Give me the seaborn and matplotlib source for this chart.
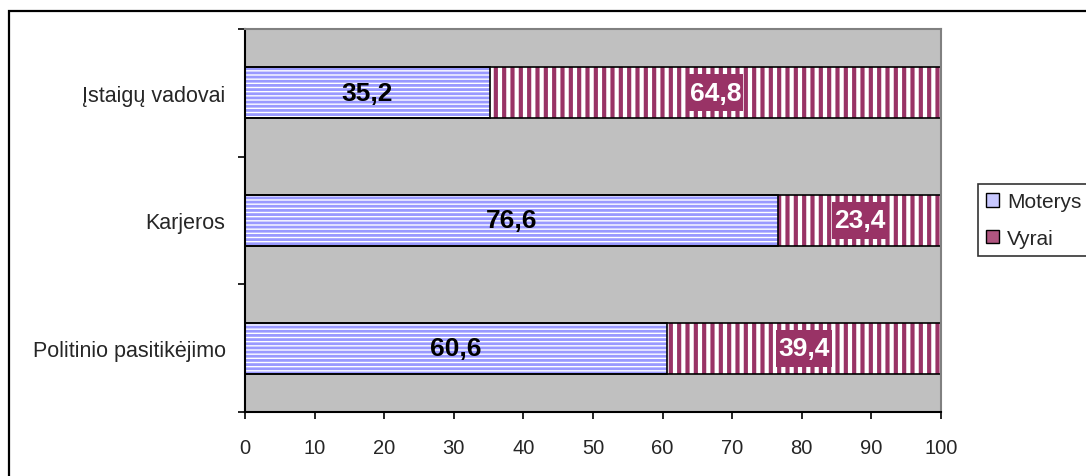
import matplotlib
matplotlib.use("Agg")
import matplotlib.pyplot as plt
from matplotlib.patches import Rectangle, Patch
import seaborn as sns
import pandas as pd

# Share of women and men by type of civil-service position, %
categories = ["Įstaigų vadovai", "Karjeros", "Politinio pasitikėjimo"]
moterys = [35.2, 76.6, 60.6]
vyrai = [64.8, 23.4, 39.4]
series_names = ["Moterys", "Vyrai"]
xticks = [0, 10, 20, 30, 40, 50, 60, 70, 80, 90, 100]

BLUE = "#9999FF"
MAROON = "#993366"
PLOT_BG = "#C0C0C0"

sns.set_style("white")
plt.rcParams["font.family"] = ["Liberation Sans", "DejaVu Sans"]

df = pd.DataFrame({
    "kategorija": categories,
    "Moterys": moterys,
    "Vyrai": vyrai,
})
df["Viso"] = df["Moterys"] + df["Vyrai"]

W, H = 1086, 477
fig = plt.figure(figsize=(W / 100, H / 100), dpi=100)
ax = fig.add_axes([245 / W, 1 - 413 / H, (941 - 245) / W, (413 - 30) / H])
ax.set_facecolor(PLOT_BG)

# stacked bars: full length (Vyrai segment shows past Moterys), then Moterys on top
sns.barplot(data=df, y="kategorija", x="Viso", orient="h", width=0.4,
            color=MAROON, ax=ax)
sns.barplot(data=df, y="kategorija", x="Moterys", orient="h", width=0.4,
            color=BLUE, ax=ax)

n = len(categories)
for i, p in enumerate(ax.patches):
    p.set_facecolor("white")
    p.set_linewidth(0)
    if i < n:
        p.set_edgecolor(MAROON)
        p.set_hatch("||")
        if hasattr(p, "set_hatch_linewidth"):
            p.set_hatch_linewidth(3.0)
    else:
        p.set_edgecolor(BLUE)
        p.set_hatch("----")
        if hasattr(p, "set_hatch_linewidth"):
            p.set_hatch_linewidth(2.0)

# black outlines around each segment
sns.barplot(data=df, y="kategorija", x="Viso", orient="h", width=0.4,
            fill=False, color="black", linewidth=1.2, ax=ax)
sns.barplot(data=df, y="kategorija", x="Moterys", orient="h", width=0.4,
            fill=False, color="black", linewidth=1.2, ax=ax)

# value labels
white_labels = []
for yi, (m, v) in enumerate(zip(moterys, vyrai)):
    ax.text(m / 2, yi, f"{m:.1f}".replace(".", ","), ha="center", va="center",
            fontsize=19, fontweight="bold", color="black", zorder=5)
    t = ax.text(m + v / 2, yi, f"{v:.1f}".replace(".", ","), ha="center",
                va="center", fontsize=19, fontweight="bold", color="white",
                zorder=5)
    white_labels.append(t)

ax.set_xlim(0, 100)
ax.set_ylim(n - 0.5, -0.5)
ax.set_xticks(xticks)
ax.set_xticklabels([str(t) for t in xticks])
ax.set_yticks([k - 0.5 for k in range(n + 1)])
ax.set_yticklabels([])
ax.set_yticks(list(range(n)), minor=True)
ax.set_yticklabels(categories, minor=True)
ax.tick_params(axis="y", which="major", direction="out", length=5, width=1.2,
               color="black", left=True)
ax.tick_params(axis="y", which="minor", length=0, pad=14, labelsize=15.5)
ax.tick_params(axis="x", direction="out", length=5, width=1.2, color="black",
               bottom=True, pad=14, labelsize=14.5)
ax.set_xlabel("")
ax.set_ylabel("")
ax.grid(False)

for side in ["left", "bottom"]:
    ax.spines[side].set_color("black")
    ax.spines[side].set_linewidth(1.5)
for side in ["top", "right"]:
    ax.spines[side].set_color("#808080")
    ax.spines[side].set_linewidth(1.5)
    ax.spines[side].set_visible(True)

# maroon boxes behind the white labels: snug sideways, taller than the text
fig.canvas.draw()
renderer = fig.canvas.get_renderer()
inv = fig.transFigure.inverted()
for t in white_labels:
    bb = t.get_window_extent(renderer)
    cx = (bb.x0 + bb.x1) / 2
    cy = (bb.y0 + bb.y1) / 2
    fx0, fy0 = inv.transform((bb.x0 - 2, cy - 18.5))
    fx1, fy1 = inv.transform((bb.x1 + 2, cy + 18.5))
    fig.add_artist(Rectangle((fx0, fy0), fx1 - fx0, fy1 - fy0,
                             transform=fig.transFigure, facecolor=MAROON,
                             edgecolor="none", zorder=4))
    t.remove()
    tx, ty = inv.transform((cx, cy))
    fig.text(tx, ty, t.get_text(), ha="center", va="center", fontsize=19,
             fontweight="bold", color="white", zorder=6)

# legend
handles = [
    Patch(facecolor="#C8C8FF", edgecolor="black", linewidth=1.0),
    Patch(facecolor="#B05580", edgecolor="black", linewidth=1.0),
]
leg = fig.legend(handles, series_names, loc="upper left",
                 bbox_to_anchor=(978 / W, 1 - 185 / H), fontsize=15,
                 frameon=True, fancybox=False, handlelength=0.6,
                 handleheight=0.6, handletextpad=0.4, borderpad=0.4,
                 labelspacing=0.85, borderaxespad=0)
leg.get_frame().set_edgecolor("black")
leg.get_frame().set_linewidth(1.2)
leg.get_frame().set_facecolor("white")

# outer chart frame (runs past the right and bottom edges)
fig.add_artist(Rectangle((9 / W, -0.2), 1.2, 1.2 - 12 / H,
                         transform=fig.transFigure, fill=False,
                         edgecolor="black", linewidth=1.6, zorder=-1))

fig.savefig("out.png", dpi=100, facecolor="white")
